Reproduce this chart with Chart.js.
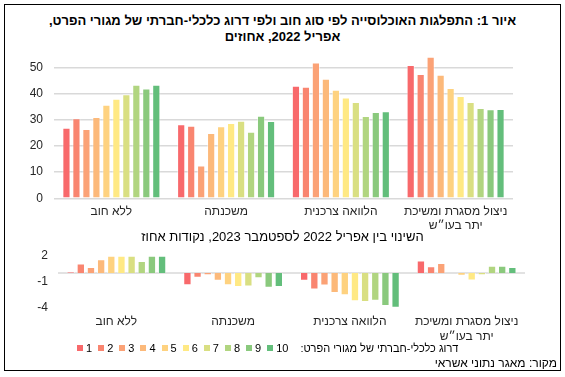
<!DOCTYPE html>
<html lang="he">
<head>
<meta charset="utf-8">
<script src="https://cdn.jsdelivr.net/npm/chart.js@4.4.1/dist/chart.umd.min.js"></script>
<style>
    body { margin: 0; background: #fff; font-family: "Liberation Sans", Arial, sans-serif; }
    #page { position: relative; width: 565px; height: 377px; overflow: hidden; }
    #frame { position: absolute; left: 4px; top: 4px; width: 555px; height: 365px; border: 1px solid #000; }
    .title { position: absolute; left: 0; width: 565px; text-align: center; color: #000; }
    #main-title { top: 13px; font-weight: bold; font-size: 13px; line-height: 16px; }
    #sub-title { top: 229px; font-size: 13px; line-height: 16px; }
    canvas { position: absolute; left: 0; }
    #levels-chart { top: 50px; }
    #change-chart { top: 240px; }
    #legend { position: absolute; left: 77px; top: 342px; display: flex; align-items: center; font-size: 11px; color: #000; }
    .legend-item { display: flex; align-items: center; margin-right: 6px; }
    .legend-color { width: 6px; height: 6px; margin-right: 3px; }
    #legend-title { margin-left: 6px; }
    #source { position: absolute; right: 8px; top: 356px; font-size: 12px; color: #000; }
</style>
</head>
<body>
<div id="page">
    <div id="frame"></div>
    <div id="main-title" class="title" dir="rtl">איור 1: התפלגות האוכלוסייה לפי סוג חוב ולפי דרוג כלכלי-חברתי של מגורי הפרט,<br>אפריל 2022, אחוזים</div>
    <canvas id="levels-chart" width="530" height="185"></canvas>
    <div id="sub-title" class="title" dir="rtl">השינוי בין אפריל 2022 לספטמבר 2023, נקודות אחוז</div>
    <canvas id="change-chart" width="540" height="105"></canvas>
    <div id="legend"></div>
    <div id="source" dir="rtl">מקור: מאגר נתוני אשראי</div>
</div>
<script>
const categories = ['ללא חוב', 'משכנתה', 'הלוואה צרכנית', ['ניצול מסגרת ומשיכת', 'יתר בעו״ש']];
const deciles = ['1', '2', '3', '4', '5', '6', '7', '8', '9', '10'];
const decileColors = ['#F8696B', '#F98570', '#FBA276', '#FCB97A', '#FED280', '#FFE984', '#D9DF82', '#B1D580', '#8AC97D', '#63BE7B'];

// share of population, April 2022 (%), by decile 1..10
const levelNoDebt = [27.0, 30.6, 26.5, 31.1, 35.8, 38.1, 39.8, 43.5, 42.0, 43.5];
const levelMortgage = [28.3, 27.8, 12.6, 25.0, 27.6, 28.8, 29.7, 25.5, 31.6, 29.6];
const levelConsumer = [43.1, 42.7, 52.0, 45.8, 41.5, 38.6, 36.9, 31.5, 33.0, 33.3];
const levelOverdraft = [51.0, 47.6, 54.2, 47.3, 42.2, 39.2, 36.9, 34.6, 34.1, 34.2];

// change April 2022 -> September 2023 (percentage points), by decile 1..10
const changeNoDebt = [0.15, 1.1, 0.7, 1.6, 2.0, 2.0, 2.0, 1.4, 2.0, 2.0];
const changeMortgage = [-1.4, -0.55, -0.25, -0.9, -1.4, -1.6, -1.55, -0.6, -1.7, -1.6];
const changeConsumer = [-0.9, -1.9, -1.45, -2.3, -2.55, -3.25, -3.35, -3.2, -3.8, -4.0];
const changeOverdraft = [1.45, 0.77, 1.15, 0, -0.3, -0.85, -0.25, 0.85, 0.85, 0.7];

const levelTicks = [0, 10, 20, 30, 40, 50];
const changeTicks = [-4, -1, 2];

const FONT = '"Liberation Sans", Arial, sans-serif';
const GRID = '#d9d9d9';

function buildDatasets(groups) {
    return deciles.map((d, i) => ({
        label: d,
        data: groups.map(g => g[i]),
        backgroundColor: decileColors[i],
        borderColor: 'rgba(255, 255, 255, 0.5)',
        borderWidth: 1,
        categoryPercentage: 0.87,
        barPercentage: 0.82
    }));
}

// fixed axis width, and no extra top/bottom room for the tick labels
function fixYAxis(width) {
    return s => {
        s.width = width;
        s.paddingTop = 0;
        s.paddingBottom = 0;
    };
}

function drawLevels() {
    const ctx = document.getElementById('levels-chart').getContext('2d');
    new Chart(ctx, {
        type: 'bar',
        data: {
            labels: categories,
            datasets: buildDatasets([levelNoDebt, levelMortgage, levelConsumer, levelOverdraft])
        },
        options: {
            responsive: false,
            animation: false,
            devicePixelRatio: 1,
            layout: { padding: { top: 4.6, right: 17, left: 0, bottom: 0 } },
            plugins: { legend: { display: false }, tooltip: { enabled: false } },
            scales: {
                x: {
                    grid: { display: false, drawTicks: false },
                    border: { display: false },
                    ticks: { color: '#262626', font: { family: FONT, size: 12 }, padding: 6, maxRotation: 0, autoSkip: false },
                    afterFit: s => { s.height = 36.7; }
                },
                y: {
                    min: 0,
                    max: 55,
                    afterBuildTicks: s => { s.ticks = levelTicks.map(v => ({ value: v })); },
                    grid: { color: GRID, lineWidth: 1.5, drawTicks: false },
                    border: { display: false },
                    ticks: { color: '#262626', font: { family: FONT, size: 12 }, padding: 11 },
                    afterFit: fixYAxis(54)
                }
            }
        }
    });
}

function drawChange() {
    const ctx = document.getElementById('change-chart').getContext('2d');
    new Chart(ctx, {
        type: 'bar',
        data: {
            labels: categories,
            datasets: buildDatasets([changeNoDebt, changeMortgage, changeConsumer, changeOverdraft])
        },
        options: {
            responsive: false,
            animation: false,
            devicePixelRatio: 1,
            layout: { padding: { top: 15.7, right: 15, left: 0, bottom: 0 } },
            plugins: { legend: { display: false }, tooltip: { enabled: false } },
            scales: {
                x: {
                    grid: { display: false, drawTicks: false },
                    border: { display: false },
                    ticks: { color: '#262626', font: { family: FONT, size: 12 }, padding: 7, maxRotation: 0, autoSkip: false },
                    afterFit: s => { s.height = 37.3; }
                },
                y: {
                    min: -4,
                    max: 2,
                    afterBuildTicks: s => { s.ticks = changeTicks.map(v => ({ value: v })); },
                    grid: { display: false, drawTicks: false },
                    border: { display: false },
                    ticks: { color: '#262626', font: { family: FONT, size: 12 }, padding: 10 },
                    afterFit: fixYAxis(58)
                }
            }
        },
        plugins: [{
            // zero line is not one of the labelled ticks, draw it through the y scale
            id: 'zeroLine',
            beforeDatasetsDraw(chart) {
                const y = chart.scales.y.getPixelForValue(0);
                const c = chart.ctx;
                c.save();
                c.strokeStyle = GRID;
                c.lineWidth = 1.5;
                c.beginPath();
                c.moveTo(chart.chartArea.left, y);
                c.lineTo(chart.chartArea.right, y);
                c.stroke();
                c.restore();
            }
        }]
    });
}

function createLegend(elementId, labels, colors) {
    const legendElement = document.getElementById(elementId);
    legendElement.innerHTML = '';

    labels.forEach((label, index) => {
        const legendItem = document.createElement('div');
        legendItem.className = 'legend-item';

        const colorBox = document.createElement('div');
        colorBox.className = 'legend-color';
        colorBox.style.backgroundColor = colors[index];

        const labelText = document.createElement('span');
        labelText.textContent = label;

        legendItem.appendChild(colorBox);
        legendItem.appendChild(labelText);
        legendElement.appendChild(legendItem);
    });

    const title = document.createElement('span');
    title.id = 'legend-title';
    title.dir = 'rtl';
    title.textContent = 'דרוג כלכלי-חברתי של מגורי הפרט:';
    legendElement.appendChild(title);
}

drawLevels();
drawChange();
createLegend('legend', deciles, decileColors);
</script>
</body>
</html>
